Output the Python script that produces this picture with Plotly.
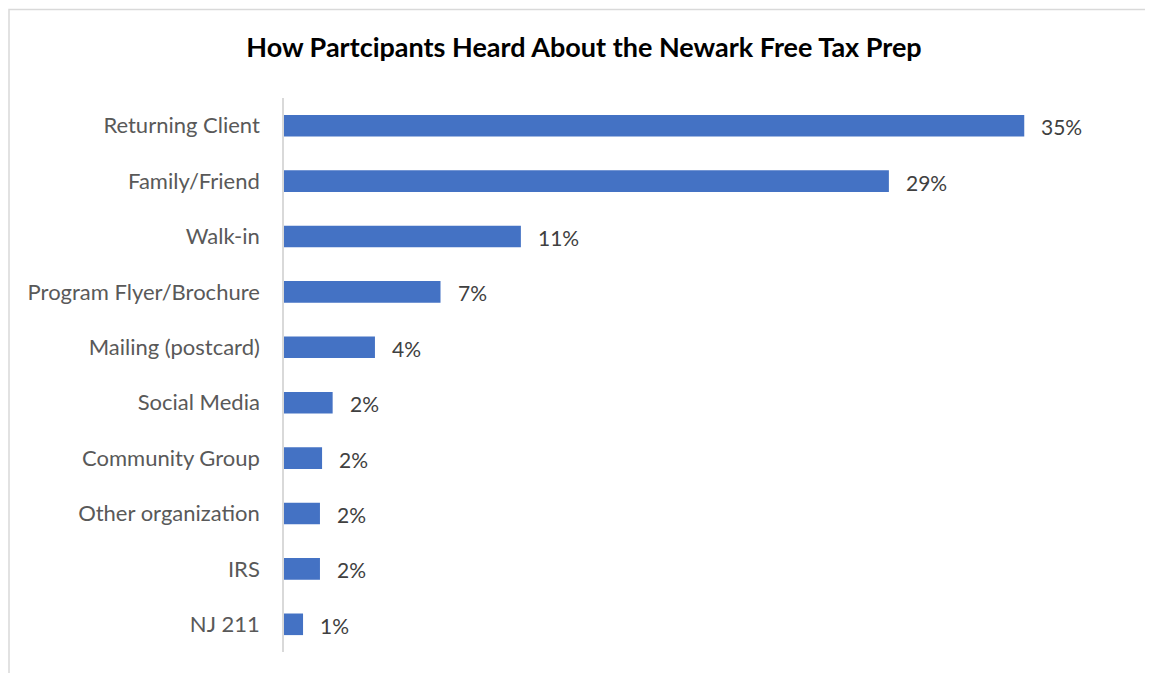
import plotly.graph_objects as go

categories = ["Returning Client", "Family/Friend", "Walk-in", "Program Flyer/Brochure",
              "Mailing (postcard)", "Social Media", "Community Group",
              "Other organization", "IRS", "NJ 211"]
values = [35.0, 28.6, 11.2, 7.4, 4.3, 2.3, 1.8, 1.7, 1.7, 0.9]
value_labels = ["35%", "29%", "11%", "7%", "4%", "2%", "2%", "2%", "2%", "1%"]
title_text = "How Partcipants Heard About the Newark Free Tax Prep"

# page has an 8px body margin; figure coordinates are page coordinates minus 8
OFF = 8
W, H = 1153 - OFF, 673 - OFF
ML, MT = 284 - OFF, 98 - OFF
MB = H - (652 - OFF)
MR = W - (1130 - OFF)
PW, PH = W - ML - MR, H - MT - MB

FONT = "Lato"

fig = go.Figure(go.Bar(
    x=values, y=categories, orientation="h",
    marker=dict(color="#4472C4", line=dict(width=0)),
    width=0.39,
    hoverinfo="skip",
))

for c, v, t in zip(categories, values, value_labels):
    fig.add_annotation(x=v, y=c, text=t, xref="x", yref="y", showarrow=False,
                       xanchor="left", yanchor="middle", xshift=15, yshift=-1,
                       font=dict(family=FONT, size=21, color="#404040"))

# outer chart border (light gray)
fig.add_shape(type="rect", xref="paper", yref="paper",
              x0=(1 - ML) / PW, x1=(W + 10 - ML) / PW,
              y0=(H - MB - (H + 10)) / PH, y1=(H - MB - 1.5) / PH,
              line=dict(color="#d9d9d9", width=1.5), fillcolor="rgba(0,0,0,0)", layer="below")

fig.update_layout(
    width=W, height=H,
    margin=dict(l=ML, r=MR, t=MT, b=MB, autoexpand=False),
    paper_bgcolor="white", plot_bgcolor="white",
    showlegend=False,
    title=dict(text="<b>" + title_text + "</b>", x=(584 - OFF) / W, xanchor="center",
               y=1 - (48 - OFF) / H, yanchor="middle", yref="container",
               font=dict(family=FONT, size=27, color="#000000")),
    xaxis=dict(range=[0, 40], visible=False, fixedrange=True),
    yaxis=dict(categoryorder="array", categoryarray=categories, autorange="reversed",
               showline=True, linecolor="#d9d9d9", linewidth=1.5, showgrid=False,
               zeroline=False, ticks="", ticklabelstandoff=18,
               tickfont=dict(family=FONT, size=22, color="#595959")),
)

fig.write_html("out.html")
